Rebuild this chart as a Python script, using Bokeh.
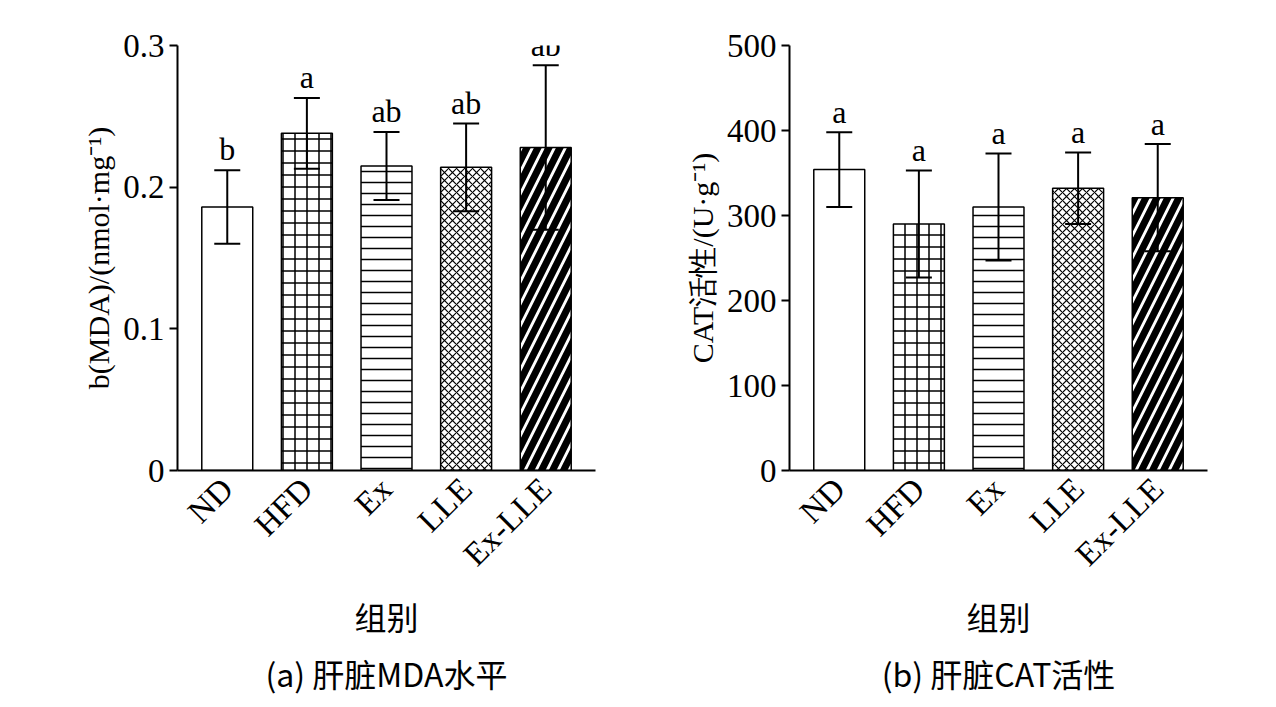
import math
from bokeh.plotting import figure
from bokeh.layouts import row
from bokeh.models import FactorRange, Range1d, Title, ColumnDataSource, Whisker, TeeHead, FixedTicker
from bokeh.core.properties import value
from bokeh.embed import file_html
from bokeh.resources import INLINE

groups = ["ND", "HFD", "Ex", "LLE", "Ex-LLE"]
mda_mean = [0.186, 0.238, 0.215, 0.214, 0.228]
mda_err = [0.026, 0.025, 0.024, 0.031, 0.058]
mda_sig = ["b", "a", "ab", "ab", "ab"]
cat_mean = [354, 290, 310, 332, 321]
cat_err = [44, 63, 63, 42, 63]
cat_sig = ["a", "a", "a", "a", "a"]
hatches = [" ", "cross", "horizontal_line", "diagonal_cross", "right_diagonal_line"]
hweights = [1, 1.5, 1.5, 1.2, 7]
hscales = [12, 12, 11, 8, 22]

SERIF = "Liberation Serif"
CJK = "Noto Sans CJK SC"

def panel(means, errs, sig, ymax, ticks, ylabel, title, step, left, right):
    p = figure(width=left + 418 + right, height=700, x_range=FactorRange(*groups, range_padding=0.05),
               y_range=Range1d(0, ymax), output_backend="svg", toolbar_location=None,
               min_border_left=left, min_border_right=right, min_border_top=45,
               min_border_bottom=223)
    p.outline_line_color = None
    p.grid.visible = False
    src = ColumnDataSource(dict(x=groups, top=means, up=[m + e for m, e in zip(means, errs)],
                                lo=[m - e for m, e in zip(means, errs)], h=hatches, hw=hweights,
                                hs=hscales, sig=sig, sy=[m + e + step for m, e in zip(means, errs)]))
    p.vbar(x="x", top="top", width=0.64, source=src, fill_color="white", line_color="black",
           line_width=1.5, hatch_pattern="h", hatch_weight="hw", hatch_scale="hs", hatch_color="black")
    w = Whisker(base="x", upper="up", lower="lo", source=src, line_width=2, line_color="black",
                upper_head=TeeHead(size=26, line_width=2), lower_head=TeeHead(size=26, line_width=2),
                level="overlay")
    p.add_layout(w)
    p.text(x="x", y="sy", text="sig", source=src, text_align="center", text_baseline="bottom",
           text_font=value(SERIF), text_font_size="32px")
    for ax in (p.xaxis[0], p.yaxis[0]):
        ax.axis_line_width = 2
        ax.major_tick_line_width = 2
        ax.major_tick_out = 8
        ax.major_tick_in = 0
        ax.minor_tick_line_color = None
        ax.major_label_text_font = SERIF
        ax.major_label_text_font_size = "33px"
        ax.major_label_text_color = "black"
    p.yaxis.ticker = FixedTicker(ticks=ticks)
    p.yaxis.axis_label = ylabel
    p.yaxis.axis_label_text_font = SERIF
    p.yaxis.axis_label_text_font_style = "normal"
    p.yaxis.axis_label_text_font_size = "30px"
    p.yaxis.axis_label_text_color = "black"
    p.xaxis.major_label_orientation = math.pi / 4
    p.xaxis.major_tick_line_color = None
    p.xaxis.axis_label = "组别"
    p.xaxis.axis_label_text_font = CJK
    p.xaxis.axis_label_text_font_style = "normal"
    p.xaxis.axis_label_text_font_size = "32px"
    p.xaxis.axis_label_text_color = "black"
    p.add_layout(Title(text=title, align="center", text_font=CJK, text_font_size="32px",
                       text_font_style="normal", text_color="black"), "below")
    return p

p1 = panel(mda_mean, mda_err, mda_sig, 0.3, [0, 0.1, 0.2, 0.3], "b(MDA)/(nmol·mg⁻¹)",
           "(a) 肝脏MDA水平", 0.002, 177, 27)
p2 = panel(cat_mean, cat_err, cat_sig, 500, [0, 100, 200, 300, 400, 500], "CAT活性/(U·g⁻¹)",
           "(b) 肝脏CAT活性", 3, 167, 45)
p = row(p1, p2)
open("out.html", "w").write(file_html(p, INLINE))
